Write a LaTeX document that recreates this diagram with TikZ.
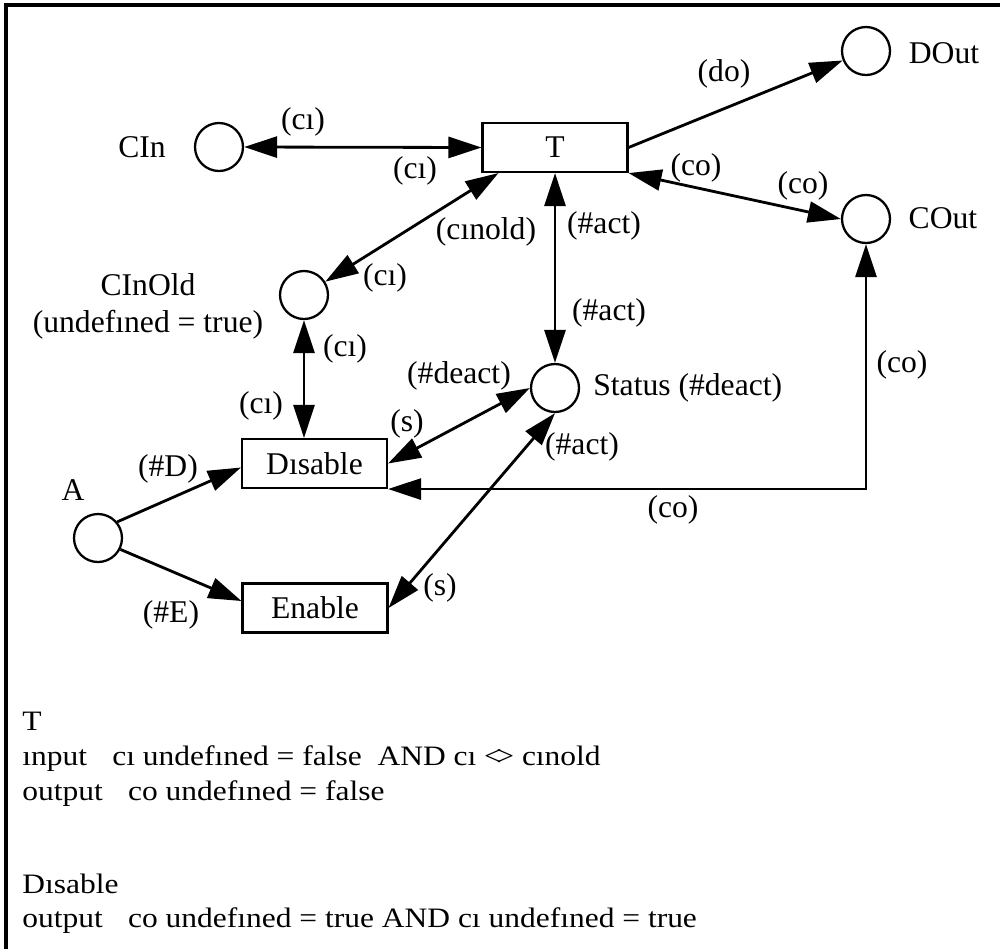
\documentclass[tikz,border=0pt]{standalone}
\usepackage{fontspec}
\setmainfont{Liberation Serif}
\newfontfamily\bodyfont{Liberation Serif}[FakeStretch=1.12]
\usetikzlibrary{arrows.meta,calc}
\begin{document}
\begin{tikzpicture}[x=0.02cm,y=-0.02cm,
 font=\fontsize{18}{21}\selectfont,
 place/.style={circle,draw,line width=1.3pt,minimum size=0.96cm,inner sep=0pt},
 trans/.style={rectangle,draw,line width=1.2pt,minimum width=2.9cm,minimum height=0.98cm,inner sep=0pt},
 lbl/.style={inner sep=0pt},
 conn/.style={line width=1.6pt},
 tip/.tip={Triangle[length=0.66cm,width=0.42cm]},
 arr/.style={conn,-tip},
 biarr/.style={conn,tip-tip},
 frame/.style={line width=1.8pt},
 body/.style={anchor=base west,inner sep=0pt,font=\bodyfont\fontsize{16}{19}\selectfont}]

\useasboundingbox (0,0) rectangle (1000,948);
\coordinate (F1) at (1002,5);
\coordinate (F0) at (6,5);
\coordinate (F2) at (6,950);
\draw[frame] (F1) -- (F0) -- (F2);

% places
\node[place] (CIn) at (219,147) {};
\node[place] (DOut) at (866,51) {};
\node[place] (COut) at (866,219) {};
\node[place] (CInOld) at (304,295) {};
\node[place] (Status) at (555,388) {};
\node[place] (A) at (98,538) {};

% transitions
\node[trans] (T) at (555,147.5) {T};
\node[trans] (Disable) at (314.5,463.5) {Dısable};
\node[trans] (Enable) at (315,608) {Enable};

% place labels
\node[lbl] (lCIn) at (142,147) {CIn};
\node[lbl] (lDOut) at (944,53) {DOut};
\node[lbl] (lCOut) at (943,218) {COut};
\node[lbl,align=center] (lCInOld) at (148,306) {CInOld\\(undefıned = true)};
\node[lbl,anchor=west] (lStatus) at (593,388) {Status (\#deact)};
\node[lbl] (lA) at (73,490) {A};

% connectors
\draw[biarr] (CIn.east) -- (T.west);
\draw[arr] (T.east) -- (DOut);
\draw[biarr] (T.south east) -- (COut.west);
\draw[biarr] ($(T.south west)+(17,0)$) -- (CInOld);
\draw[biarr] (T.south) -- (Status.north);
\draw[biarr] (CInOld.south) -- (CInOld.south |- Disable.north);
\draw[biarr] (Disable.east) -- (Status.west);
\draw[biarr] (Status.south) -- (Enable.east);
\draw[biarr] (Disable.south east) -- (COut.south |- Disable.south east) -- (COut.south);
\draw[arr] (A.40) -- ($(Disable.west)+(0,4)$);
\draw[arr] (A.-27) -- ($(Enable.west)+(0,-7)$);

% arc labels
\node[lbl] (e1) at (303,122) {(cı)};
\node[lbl] (e2) at (415,171) {(cı)};
\node[lbl] (e3) at (724,74) {(do)};
\node[lbl] (e4) at (696,168) {(co)};
\node[lbl] (e5) at (803,186) {(co)};
\node[lbl] (e6) at (486,232) {(cınold)};
\node[lbl] (e7) at (604,226) {(\#act)};
\node[lbl] (e8) at (609,313) {(\#act)};
\node[lbl] (e9) at (385,278) {(cı)};
\node[lbl] (e10) at (345,349) {(cı)};
\node[lbl] (e11) at (261,406) {(cı)};
\node[lbl] (e12) at (459,376) {(\#deact)};
\node[lbl] (e13) at (407,424) {(s)};
\node[lbl] (e14) at (582,447) {(\#act)};
\node[lbl] (e15) at (902,365) {(co)};
\node[lbl] (e16) at (673,510) {(co)};
\node[lbl] (e17) at (440,588) {(s)};
\node[lbl] (e18) at (168,469) {(\#D)};
\node[lbl] (e19) at (171,615) {(\#E)};

% guard text
\node[body] (g1) at (22,730) {T};
\node[body] (g2) at (22,765) {ınput\hspace{0.9em}cı undefıned = false\ \ AND cı \textless\kern-0.2em\textgreater\ cınold};
\node[body] (g3) at (22,800) {output\hspace{0.9em}co undefıned = false};
\node[body] (g4) at (22,893) {Dısable};
\node[body] (g5) at (22,927) {output\hspace{0.9em}co undefıned = true AND cı undefıned = true};
\end{tikzpicture}
\end{document}
